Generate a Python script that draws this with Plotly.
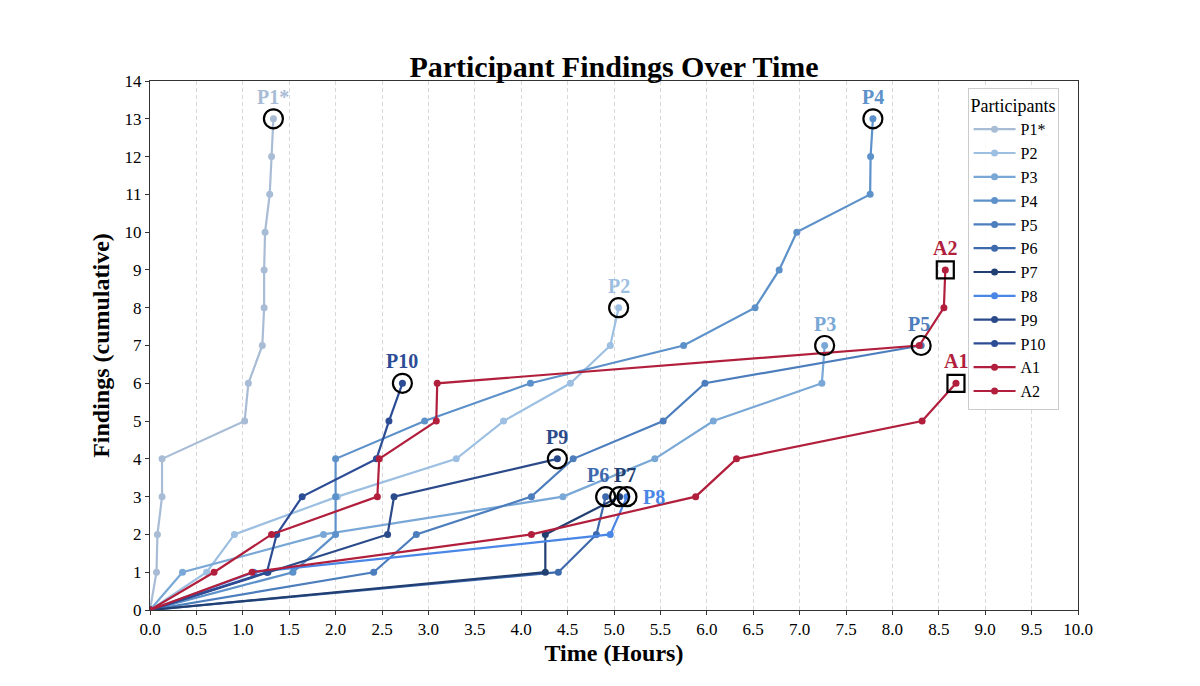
import plotly.graph_objects as go

# ---- data (hours, cumulative findings) ----
names = ["P1*", "P2", "P3", "P4", "P5", "P6", "P7", "P8", "P9", "P10", "A1", "A2"]

p1_t = [0, 0.07, 0.08, 0.13, 0.13, 1.02, 1.06, 1.21, 1.23, 1.23, 1.24, 1.29, 1.31, 1.33]
p1_f = [0, 1, 2, 3, 4, 5, 6, 7, 8, 9, 10, 11, 12, 13]
p2_t = [0, 0.61, 0.91, 2.02, 3.30, 3.81, 4.53, 4.96, 5.05]
p2_f = [0, 1, 2, 3, 4, 5, 6, 7, 8]
p3_t = [0, 0.35, 1.87, 4.45, 5.44, 6.07, 7.24, 7.27]
p3_f = [0, 1, 2, 3, 4, 5, 6, 7]
p4_t = [0, 1.54, 2.00, 2.00, 2.00, 2.96, 4.10, 5.75, 6.52, 6.78, 6.97, 7.76, 7.765, 7.79]
p4_f = [0, 1, 2, 3, 4, 5, 6, 7, 8, 9, 10, 11, 12, 13]
p5_t = [0, 2.41, 2.87, 4.11, 4.56, 5.53, 5.98, 8.31]
p5_f = [0, 1, 2, 3, 4, 5, 6, 7]
p6_t = [0, 4.40, 4.81, 4.91]
p6_f = [0, 1, 2, 3]
p7_t = [0, 4.26, 4.26, 5.06]
p7_f = [0, 1, 2, 3]
p8_t = [0, 1.12, 4.96, 5.14]
p8_f = [0, 1, 2, 3]
p9_t = [0, 1.27, 2.56, 2.63, 4.39]
p9_f = [0, 1, 2, 3, 4]
p10_t = [0, 1.26, 1.365, 1.64, 2.44, 2.575, 2.72]
p10_f = [0, 1, 2, 3, 4, 5, 6]
a1_t = [0, 1.10, 4.11, 5.88, 6.32, 8.32, 8.685]
a1_f = [0, 1, 2, 3, 4, 5, 6]
a2_t = [0, 0.69, 1.31, 2.45, 2.47, 3.085, 3.095, 8.29, 8.555, 8.57]
a2_f = [0, 1, 2, 3, 4, 5, 6, 7, 8, 9]

times = [p1_t, p2_t, p3_t, p4_t, p5_t, p6_t, p7_t, p8_t, p9_t, p10_t, a1_t, a2_t]
finds = [p1_f, p2_f, p3_f, p4_f, p5_f, p6_f, p7_f, p8_f, p9_f, p10_f, a1_f, a2_f]

colors = ["#a9bcd5", "#9dc0e2", "#79a8d6", "#5d91c9", "#4c7dbd", "#3d69ad",
          "#223f72", "#4a86e6", "#2b4a8a", "#2c4c96", "#b11f3d", "#b11f3d"]

# label offsets (px): (xshift, yshift, xanchor, yanchor)
label_pos = {
    "P1*": (0, 9, "center", "bottom"),
    "P2": (0, 9, "center", "bottom"),
    "P3": (0, 9, "center", "bottom"),
    "P4": (0, 9, "center", "bottom"),
    "P5": (-2, 9, "center", "bottom"),
    "P6": (-8, 9, "center", "bottom"),
    "P7": (5, 9, "center", "bottom"),
    "P8": (14, 0, "left", "middle"),
    "P9": (0, 9, "center", "bottom"),
    "P10": (0, 9, "center", "bottom"),
    "A1": (0, 9, "center", "bottom"),
    "A2": (0, 9, "center", "bottom"),
}

FONT = "Liberation Serif, Times New Roman, serif"

fig = go.Figure()

for n, t, f, c in zip(names, times, finds, colors):
    fig.add_trace(go.Scatter(
        x=t, y=f, mode="lines+markers", name=n,
        line=dict(color=c, width=2.2),
        marker=dict(color=c, size=7),
    ))

# end markers
for n, t, f, c in zip(names, times, finds, colors):
    sym = "square-open" if n.startswith("A") else "circle-open"
    size = 17 if n.startswith("A") else 19
    fig.add_trace(go.Scatter(
        x=[t[-1]], y=[f[-1]], mode="markers", showlegend=False, hoverinfo="skip",
        marker=dict(symbol=sym, size=size, color="black", line=dict(width=2.2, color="black")),
    ))

annotations = []
for n, t, f, c in zip(names, times, finds, colors):
    xs, ys, xa, ya = label_pos[n]
    annotations.append(dict(
        x=t[-1], y=f[-1], xref="x", yref="y", text="<b>%s</b>" % n,
        showarrow=False, xshift=xs, yshift=ys, xanchor=xa, yanchor=ya,
        font=dict(family=FONT, size=20, color=c),
    ))

W, H = 1192, 678
fig.update_layout(
    width=W, height=H,
    margin=dict(l=142, r=W - 142 - 928, t=73, b=H - 73 - 529),
    paper_bgcolor="white", plot_bgcolor="white",
    font=dict(family=FONT, size=17, color="black"),
    title=dict(text="<b>Participant Findings Over Time</b>", x=0.5, xref="paper",
               y=1 - 58 / H, yref="container", yanchor="middle",
               font=dict(family=FONT, size=30, color="black")),
    annotations=annotations,
    legend=dict(
        title=dict(text="Participants", font=dict(family=FONT, size=18), side="top center"),
        x=0.881, y=0.987, xanchor="left", yanchor="top",
        bgcolor="rgba(255,255,255,0.85)", bordercolor="#cccccc", borderwidth=1,
        font=dict(family=FONT, size=16), tracegroupgap=0, itemwidth=42,
    ),
    showlegend=True,
)

fig.update_xaxes(
    range=[0, 10], dtick=0.5, tick0=0, tickformat=".1f",
    showgrid=True, gridcolor="#d9d9d9", gridwidth=0.8, griddash="4px,3px",
    zeroline=False, showline=True, linecolor="#333333", linewidth=1, mirror=True,
    ticks="outside", ticklen=4, tickcolor="#333333",
    tickfont=dict(family=FONT, size=17),
    title=dict(text="<b>Time (Hours)</b>", font=dict(family=FONT, size=24), standoff=5),
)
fig.update_yaxes(
    range=[0, 14], dtick=1, tick0=0,
    showgrid=False, zeroline=False, showline=True, linecolor="#333333", linewidth=1, mirror=True,
    ticks="outside", ticklen=4, tickcolor="#333333",
    tickfont=dict(family=FONT, size=17),
    title=dict(text="<b>Findings (cumulative)</b>", font=dict(family=FONT, size=24), standoff=8),
)

fig.write_html("out.html")
